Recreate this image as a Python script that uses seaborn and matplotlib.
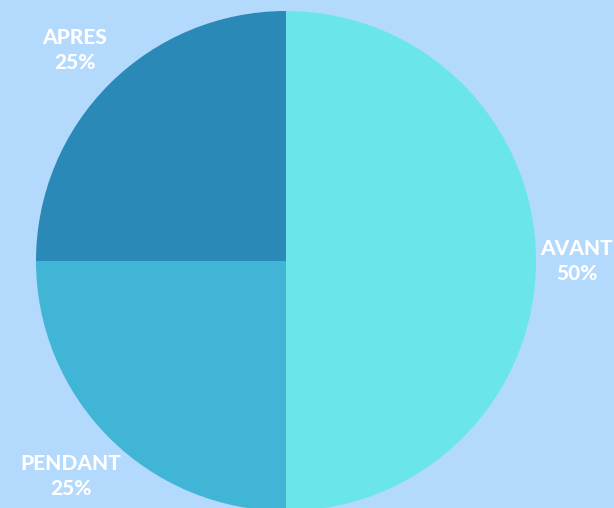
import matplotlib
matplotlib.use("Agg")
import matplotlib.pyplot as plt
import seaborn as sns
import numpy as np

categories = ["AVANT", "PENDANT", "APRES"]
values = [50, 25, 25]
colors = ["#6AE5E9", "#41B5D5", "#2B89B7"]
bg = "#B3D9FD"
label_dist = [1.163, 1.215, 1.195]

sns.set_theme(style="white")
plt.rcParams['font.family'] = ['Lato', 'DejaVu Sans']

fig = plt.figure(figsize=(6.14, 5.08), dpi=100, facecolor=bg)
ax = fig.add_axes([36 / 614, -3 / 508, 500 / 614, 500 / 508])
ax.set_facecolor(bg)

labels = [f"{c}\n{v}%" for c, v in zip(categories, values)]
wedges, texts = ax.pie(values, labels=labels, colors=colors, startangle=90,
                       counterclock=False, radius=1, labeldistance=1.19,
                       textprops=dict(color="white", fontsize=15, fontweight="black",
                                      linespacing=1.4),
                       wedgeprops=dict(linewidth=0))
for w, t, d in zip(wedges, texts, label_dist):
    ang = np.deg2rad((w.theta1 + w.theta2) / 2)
    t.set_position((d * np.cos(ang), d * np.sin(ang)))
    t.set_ha("center")
    t.set_va("center")
    t.set_multialignment("center")
    t.set_clip_on(False)
ax.set_xlim(-1, 1)
ax.set_ylim(-1, 1)
ax.set_aspect("equal")
ax.axis("off")

fig.savefig("out.png", dpi=100, facecolor=bg)
